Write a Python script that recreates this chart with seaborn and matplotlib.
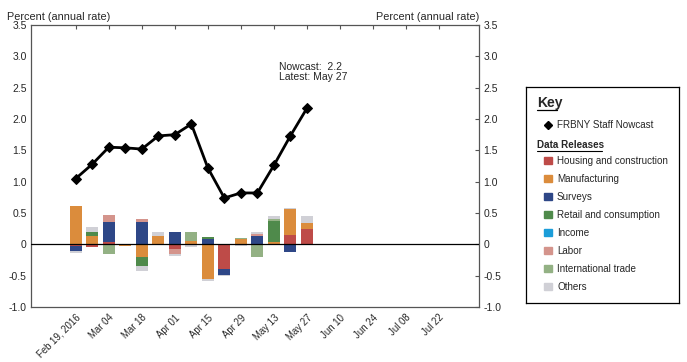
import numpy as np
import pandas as pd
import matplotlib
matplotlib.use("Agg")
import matplotlib.pyplot as plt
from matplotlib.patches import Rectangle
import seaborn as sns

sns.set_theme(style="white")
plt.rcParams['font.family'] = ['Liberation Sans', 'DejaVu Sans']

# ---- data ----
weeks = ["2016-02-19", "2016-02-26", "2016-03-04", "2016-03-11", "2016-03-18",
         "2016-03-25", "2016-04-01", "2016-04-08", "2016-04-15", "2016-04-22",
         "2016-04-29", "2016-05-06", "2016-05-13", "2016-05-20", "2016-05-27"]
nowcast = [1.05, 1.28, 1.55, 1.54, 1.52, 1.73, 1.75, 1.92, 1.22, 0.74,
           0.82, 0.82, 1.26, 1.73, 2.17]

categories = ["Housing and construction", "Manufacturing", "Surveys",
              "Retail and consumption", "Income", "Labor",
              "International trade", "Others"]
housing       = [-0.03, -0.04, 0.04, 0.00, 0.00, 0.00, -0.07, 0.00, 0.00, -0.39, 0.00, 0.00, 0.00, 0.15, 0.24]
manufacturing = [0.61, 0.13, 0.00, -0.02, -0.20, 0.14, 0.00, 0.06, -0.55, 0.00, 0.08, 0.00, 0.03, 0.42, 0.10]
surveys       = [-0.07, 0.00, 0.32, 0.00, 0.35, 0.00, 0.19, 0.00, 0.08, -0.10, 0.00, 0.13, 0.00, -0.13, 0.00]
retail        = [0.00, 0.06, 0.00, 0.00, -0.14, 0.00, 0.00, 0.00, 0.03, 0.00, 0.00, 0.00, 0.35, 0.00, 0.00]
income        = [0.00] * 15
labor         = [0.00, 0.00, 0.11, 0.00, 0.05, 0.00, -0.08, 0.00, 0.00, 0.00, 0.00, 0.04, 0.00, 0.00, 0.00]
intl_trade    = [0.00, 0.00, -0.16, 0.00, 0.00, 0.00, 0.00, 0.13, 0.00, 0.00, 0.02, -0.21, 0.02, 0.00, 0.00]
others        = [-0.04, 0.08, 0.00, 0.00, -0.08, 0.06, -0.03, -0.04, -0.04, -0.02, -0.03, 0.03, 0.05, 0.01, 0.11]

colors = ["#BE4B48", "#DB8C3C", "#2E4787", "#4F8A4B", "#1B9DD9",
          "#D4948C", "#93B184", "#D0D0D6"]

tick_dates = ["2016-02-19", "2016-03-04", "2016-03-18", "2016-04-01", "2016-04-15",
              "2016-04-29", "2016-05-13", "2016-05-27", "2016-06-10", "2016-06-24",
              "2016-07-08", "2016-07-22"]
tick_labels = ["Feb 19, 2016", "Mar 04", "Mar 18", "Apr 01", "Apr 15", "Apr 29",
               "May 13", "May 27", "Jun 10", "Jun 24", "Jul 08", "Jul 22"]
y_ticks = [3.5, 3.0, 2.5, 2.0, 1.5, 1.0, 0.5, 0, -0.5, -1.0]
y_labels = ["3.5", "3.0", "2.5", "2.0", "1.5", "1.0", "0.5", "0", "-0.5", "-1.0"]

# ---- figure ----
W, H = 687, 362
fig = plt.figure(figsize=(W / 100, H / 100), dpi=100)
ax = fig.add_axes([31 / W, (H - 307) / H, (479 - 31) / W, (307 - 25) / H])

dates = pd.to_datetime(weeks)
series = [housing, manufacturing, surveys, retail, income, labor, intl_trade, others]
pos_base = np.zeros(len(dates))
neg_base = np.zeros(len(dates))
for vals, col in zip(series, colors):
    v = np.array(vals)
    p = np.where(v > 0, v, 0)
    n = np.where(v < 0, v, 0)
    ax.bar(dates, p, bottom=pos_base, width=5, color=col, edgecolor='none', zorder=2)
    ax.bar(dates, n, bottom=neg_base, width=5, color=col, edgecolor='none', zorder=2)
    pos_base += p
    neg_base += n

ax.axhline(0, color='black', lw=0.9, zorder=3)

df = pd.DataFrame({"date": dates, "nowcast": nowcast})
sns.lineplot(data=df, x="date", y="nowcast", ax=ax, color='black', lw=2,
             marker='D', markersize=5, markeredgecolor='black', zorder=4)

ax.text(pd.Timestamp("2016-05-15"), 2.75, "Nowcast:  2.2\nLatest: May 27",
        fontsize=7.5, va='center', ha='left', linespacing=0.95)

ax.set_xlim(pd.Timestamp("2016-01-31"), pd.Timestamp("2016-08-08"))
ax.set_ylim(-1.0, 3.5)
ax.set_xticks(pd.to_datetime(tick_dates))
ax.set_xticklabels(tick_labels, rotation=45, ha='right', rotation_mode='anchor',
                   fontsize=6.9)
ax.set_yticks(y_ticks)
ax.set_yticklabels(y_labels, fontsize=7.5)
ax.tick_params(axis='both', direction='in', length=3, width=0.8, color='#555555',
               top=True, right=True, labelright=True, labelleft=True, pad=3)
ax.tick_params(axis='x', pad=4)
ax.set_xlabel("")
ax.set_ylabel("")
for s in ax.spines.values():
    s.set_color('#555555')
    s.set_linewidth(0.9)
ax.grid(False)
if ax.get_legend():
    ax.get_legend().remove()

fig.text(7 / W, (H - 17) / H, "Percent (annual rate)", fontsize=7.8, va='center', ha='left')
fig.text(479 / W, (H - 17) / H, "Percent (annual rate)", fontsize=7.8, va='center', ha='right')

# ---- key box ----
kx0, ky0, kx1, ky1 = 526, 87, 679, 303
kax = fig.add_axes([kx0 / W, (H - ky1) / H, (kx1 - kx0) / W, (ky1 - ky0) / H])
kax.set_xlim(kx0, kx1)
kax.set_ylim(ky1, ky0)
kax.set_xticks([])
kax.set_yticks([])
for s in kax.spines.values():
    s.set_color('black')
    s.set_linewidth(0.9)
kax.set_facecolor('white')

kax.text(537, 103, "Key", fontsize=10, fontweight='bold', va='center', ha='left')
kax.plot([537, 557], [110, 110], color='black', lw=0.9)
kax.plot([548], [124.5], marker='D', color='black', markersize=4)
kax.text(557, 124.5, "FRBNY Staff Nowcast", fontsize=7.1, va='center', ha='left')
kax.text(537, 145, "Data Releases", fontsize=7.1, fontweight='bold', va='center', ha='left')
kax.plot([537, 602], [150.5, 150.5], color='black', lw=0.8)
for i, (name, col) in enumerate(zip(categories, colors)):
    yy = 160.5 + 18 * i
    kax.add_patch(Rectangle((544, yy - 3.7), 7.5, 7.5, color=col))
    kax.text(557, yy, name, fontsize=7.1, va='center', ha='left')

fig.savefig("out.png", dpi=100)
